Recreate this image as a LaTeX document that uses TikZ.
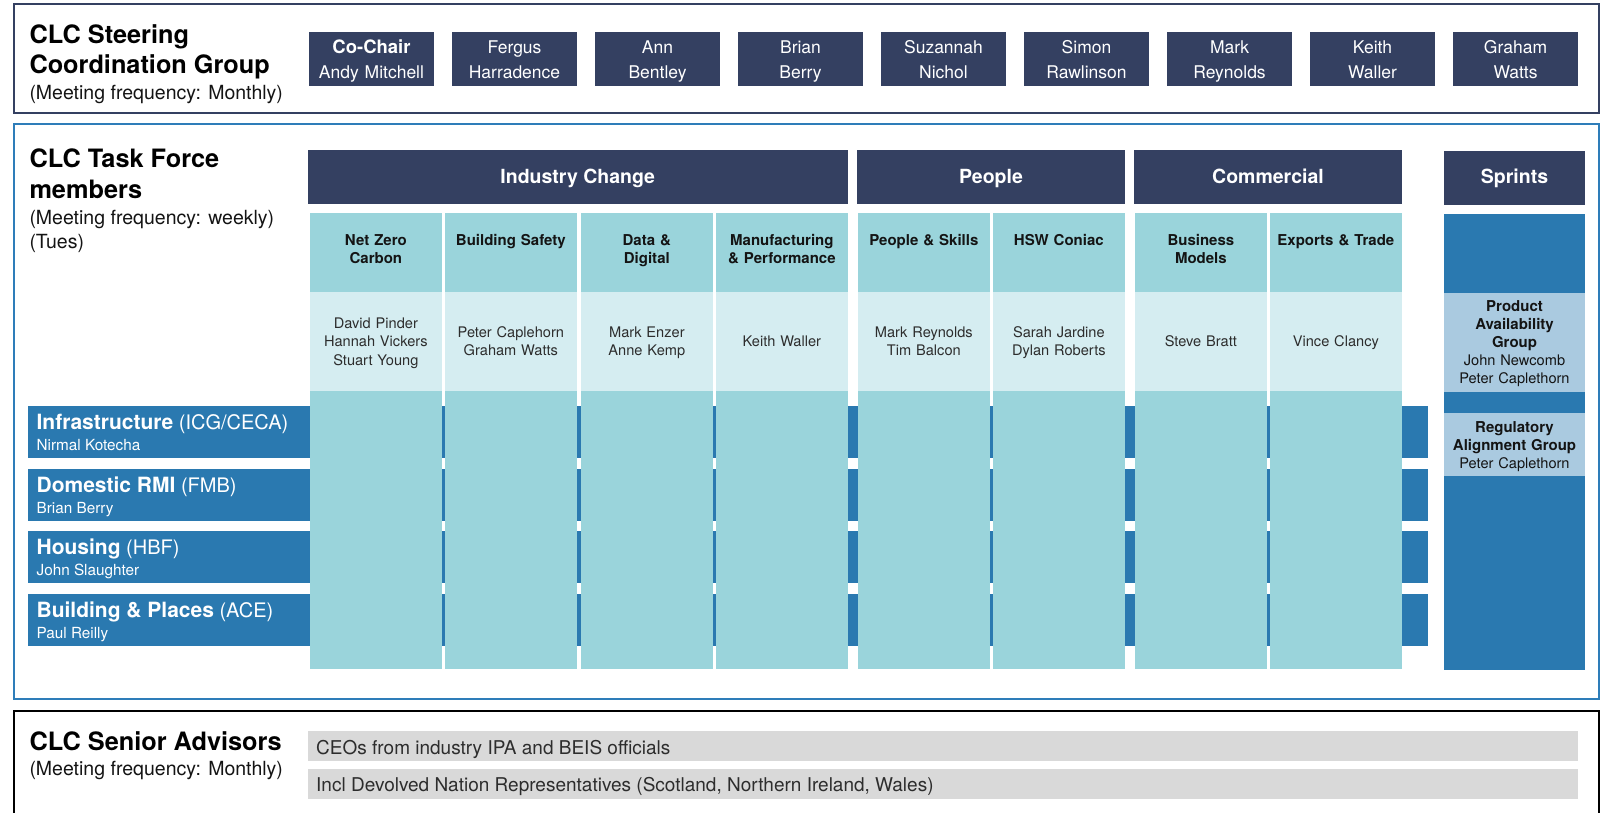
\documentclass[tikz,border=0pt]{standalone}
\usepackage{fontspec}
\setmainfont{TeX Gyre Heros}
\usetikzlibrary{calc}

\definecolor{navy}{RGB}{52,64,97}
\definecolor{tfblue}{RGB}{46,125,185}
\definecolor{rowblue}{RGB}{42,121,176}
\definecolor{teal}{RGB}{154,212,219}
\definecolor{lteal}{RGB}{213,237,241}
\definecolor{sprlight}{RGB}{170,202,224}
\definecolor{barfill}{RGB}{217,217,217}
\definecolor{ink}{RGB}{20,20,20}
\definecolor{soft}{RGB}{45,45,45}

\newcommand{\fs}[2]{\fontsize{#1}{#2}\selectfont}

\begin{document}
\begin{tikzpicture}[x=1pt,y=-1pt,
  box/.style={anchor=north west, inner sep=0pt, outer sep=0pt, draw=none},
  frame/.style={anchor=north west, inner sep=0pt, outer sep=0pt, fill=white},
  title/.style={anchor=base west, inner sep=0pt, text=black, font=\bfseries\fs{25.3}{30}},
  subtitle/.style={anchor=base west, inner sep=0pt, text=ink, font=\fs{19.5}{24}},
  steertxt/.style={anchor=base, inner sep=0pt, text=white, align=center, text width=125pt, font=\fs{17.5}{25}},
  cattxt/.style={anchor=base, inner sep=0pt, text=white, font=\bfseries\fs{19.5}{24}},
  colhead/.style={anchor=base, inner sep=0pt, text=ink, align=center, text width=131pt, font=\bfseries\fs{15}{18}},
  colnames/.style={anchor=base, inner sep=0pt, text=soft, align=center, text width=131pt, font=\fs{14.6}{18.5}},
  sprtxt/.style={anchor=base, inner sep=0pt, text=ink, align=center, text width=141pt, font=\fs{14.6}{18.2}},
  rowtxt/.style={anchor=base west, inner sep=0pt, text=white, font=\fs{20}{24}},
  rowname/.style={anchor=base west, inner sep=0pt, text=white, font=\fs{15.3}{18}},
  bartxt/.style={anchor=base west, inner sep=0pt, text=soft, font=\fs{19}{24}}]

\useasboundingbox (0,0) rectangle (1605,813);
\fill[white] (0,0) rectangle (1605,813);

% ---------- Steering Coordination Group ----------
\node[frame, draw=navy, line width=2.5pt, minimum width=1585pt, minimum height=109pt] (steer) at (14,4) {};
\node[title] (steerT1) at (29.3,44) {CLC Steering};
\node[title] (steerT2) at (29.3,74) {Coordination Group};
\node[subtitle] (steerT3) at (29.3,100) {(Meeting frequency: Monthly)};

\foreach \i in {0,...,8}{
  \node[box, fill=navy, minimum width=125pt, minimum height=54pt] (sc\i) at ({309+143*\i},32) {};
}
\node[steertxt] (sc0t) at ($(sc0.north)+(0,22)$) {{\bfseries\fs{18.5}{25}Co-Chair}\\Andy Mitchell};
\foreach \i/\a/\b in {1/Fergus/Harradence,2/Ann/Bentley,3/Brian/Berry,4/Suzannah/Nichol,
                      5/Simon/Rawlinson,6/Mark/Reynolds,7/Keith/Waller,8/Graham/Watts}{
  \node[steertxt] (sc\i t) at ($(sc\i.north)+(0,22)$) {\a\\\b};
}

% ---------- Task Force ----------
\node[frame, draw=tfblue, line width=2.5pt, minimum width=1585pt, minimum height=575pt] (tf) at (14,124) {};
\node[title] (tfT1) at (29.3,167.7) {CLC Task Force};
\node[title] (tfT2) at (29.3,198.3) {members};
\node[subtitle] (tfT3) at (29.3,224.3) {(Meeting frequency: weekly)};
\node[subtitle] (tfT4) at (29.3,248.3) {(Tues)};

% theme headers
\node[box, fill=navy, minimum width=539.5pt, minimum height=53.5pt] (ic) at (308,150) {};
\node[box, fill=navy, minimum width=268pt, minimum height=53.5pt] (pe) at (857,150) {};
\node[box, fill=navy, minimum width=268pt, minimum height=53.5pt] (co) at (1134,150) {};
\node[box, fill=navy, minimum width=141pt, minimum height=54pt] (sp) at (1444,151) {};
\node[cattxt] (icT) at ($(ic.north)+(0,33.3)$) {Industry Change};
\node[cattxt] (peT) at ($(pe.north)+(0,33.3)$) {People};
\node[cattxt] (coT) at ($(co.north)+(0,33.3)$) {Commercial};
\node[cattxt] (spT) at ($(sp.north)+(0,33)$) {Sprints};

% sector rows (behind the workstream columns)
\foreach \r/\y/\s/\p/\n in {1/406/Infrastructure/{(ICG/CECA)}/Nirmal Kotecha,
                            2/469/Domestic RMI/(FMB)/Brian Berry,
                            3/531/Housing/(HBF)/John Slaughter,
                            4/594/Building \& Places/(ACE)/Paul Reilly}{
  \node[box, fill=rowblue, minimum width=1400pt, minimum height=52pt] (row\r) at (28,\y) {};
  \node[rowtxt] (row\r t) at ($(row\r.north west)+(8.4,23.5)$) {{\bfseries\fs{21}{24}\s} \p};
  \node[rowname] (row\r n) at ($(row\r.north west)+(8.4,44.7)$) {\n};
}

% workstream columns
\foreach \c/\x/\h/\n/\o in {1/310/{Net Zero\\Carbon}/{David Pinder\\Hannah Vickers\\Stuart Young}/36.2,
                            2/445/{Building Safety}/{Peter Caplehorn\\Graham Watts}/45.45,
                            3/581/{Data \&\\Digital}/{Mark Enzer\\Anne Kemp}/45.45,
                            4/716/{Manufacturing\\\& Performance}/{Keith Waller}/54.7,
                            5/858/{People \& Skills}/{Mark Reynolds\\Tim Balcon}/45.45,
                            6/993/{HSW Coniac}/{Sarah Jardine\\Dylan Roberts}/45.45,
                            7/1135/{Business\\Models}/{Steve Bratt}/54.7,
                            8/1270/{Exports \& Trade}/{Vince Clancy}/54.7}{
  \node[box, fill=teal, minimum width=131.7pt, minimum height=455.7pt] (col\c) at (\x,213) {};
  \node[box, fill=lteal, minimum width=131.7pt, minimum height=99pt] (nm\c) at (\x,292) {};
  \node[colhead] (col\c h) at ($(col\c.north)+(0,32.7)$) {\h};
  \node[colnames] (nm\c t) at ($(nm\c.north)+(0,\o)$) {\n};
}

% sprints column
\node[box, fill=rowblue, minimum width=141pt, minimum height=456pt] (spc) at (1444,214) {};
\node[box, fill=sprlight, minimum width=141pt, minimum height=98.8pt] (pag) at (1444,292.7) {};
\node[box, fill=sprlight, minimum width=141pt, minimum height=63pt] (rag) at (1444,413) {};
\node[sprtxt] (pagT) at ($(pag.north)+(0,18.3)$) {{\bfseries\fs{15}{18.2}Product\\Availability\\Group}\\John Newcomb\\Peter Caplethorn};
\node[sprtxt] (ragT) at ($(rag.north)+(0,19.3)$) {{\bfseries\fs{15}{18.2}Regulatory\\Alignment Group}\\Peter Caplethorn};

% ---------- Senior Advisors ----------
\node[frame, draw=black, line width=2.7pt, minimum width=1585pt, minimum height=140pt] (sa) at (14,711) {};
\node[title] (saT1) at (29.3,750) {CLC Senior Advisors};
\node[subtitle] (saT2) at (29.3,775) {(Meeting frequency: Monthly)};
\node[box, fill=barfill, minimum width=1270pt, minimum height=30pt] (bar1) at (308,731) {};
\node[box, fill=barfill, minimum width=1270pt, minimum height=30pt] (bar2) at (308,769) {};
\node[bartxt] (bar1t) at ($(bar1.north west)+(8,23)$) {CEOs from industry IPA and BEIS officials};
\node[bartxt] (bar2t) at ($(bar2.north west)+(8,22)$) {Incl Devolved Nation Representatives (Scotland, Northern Ireland, Wales)};
\end{tikzpicture}
\end{document}
